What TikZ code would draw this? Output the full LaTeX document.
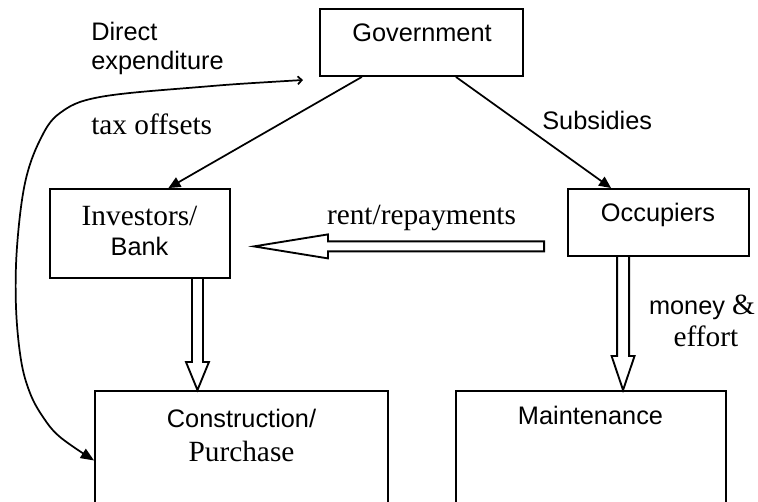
\documentclass[tikz,border=0pt]{standalone}
\usepackage{fontspec}
\setmainfont{Liberation Serif}
\setsansfont{Liberation Sans}
\usetikzlibrary{arrows.meta,calc}
\tikzset{box/.style={draw, rectangle, line width=1.4pt, inner sep=0pt}, % the plain boxes
sanstxt/.style={font=\fontsize{19}{23}\selectfont\sffamily, inner sep=0pt, anchor=base}, % Arial-like text
seriftxt/.style={font=\fontsize{22}{26}\selectfont\rmfamily, inner sep=0pt, anchor=base}, % Times-like text
flow/.style={line width=1.3pt, -{Triangle[length=9pt,width=8pt]}}, % thin arrows
hollow/.style={line width=1.4pt, line join=miter}, % outline of the fat arrows
}

\begin{document}
\begin{tikzpicture}[x=0.75pt,y=-0.75pt]
\useasboundingbox (0,0) rectangle (758,502);
\clip (0,0) rectangle (758,502);
\node[box, minimum width=152.25pt, minimum height=50.25pt] (gov) at (421.5,42.5) {};
\node[box, minimum width=135pt, minimum height=66.75pt] (inv) at (140,233.5) {};
\node[box, minimum width=135.75pt, minimum height=50.25pt] (occ) at (658.5,222.5) {};
\node[box, minimum width=219.75pt, minimum height=104.25pt] (con) at (241.5,460.5) {};
\node[box, minimum width=202.5pt, minimum height=104.25pt] (mnt) at (591,460.5) {};
% box texts
\node[sanstxt] (govtxt) at (422,42) {Government};
\node[seriftxt] (invtxt) at (139.5,226) {Investors/};
\node[sanstxt] (banktxt) at ([yshift=-22.5pt]invtxt.base) {Bank};
\node[sanstxt] (occtxt) at (658,222) {Occupiers};
\node[sanstxt] (contxt) at (241.5,428) {Construction/};
\node[seriftxt] (purtxt) at ([yshift=-25.5pt]contxt.base) {Purchase};
\node[sanstxt] (mnttxt) at (590.5,425) {Maintenance};
% edge texts
\node[sanstxt, anchor=base west] (dirtxt) at (91,41) {Direct};
\node[sanstxt, anchor=base west] (exptxt) at (91,70) {expenditure};
\node[seriftxt, anchor=base west] (taxtxt) at (91,135) {tax offsets};
\node[sanstxt, anchor=base west] (subtxt) at (542,130) {Subsidies};
\node[seriftxt] (renttxt) at (421.5,225) {rent/repayments};
\node[sanstxt] (montxt) at (702,315) {money {\fontsize{22}{26}\selectfont\rmfamily\&}};
\node[seriftxt] (efftxt) at (706,347) {effort};
% thin arrows
\draw[flow] (gov.210.7) -- (inv.58.8);
\draw[flow] (gov.315.8) -- (occ.144.2);
\coordinate (dirtail) at (303,80);
\draw[line width=1.3pt, {Straight Barb[length=3pt,width=6pt]}-{Triangle[length=10pt,width=8pt]}]
  plot[smooth, tension=0.6] coordinates {(dirtail) (200,87) (100,97) (60,113) (40,140) (25,183) (17,247) (16,307) (21,360) (30,393) (43,417) (60,437) (con.west)};
% fat arrows
\draw[hollow] let \p1=([xshift=-25.1pt]inv.south east), \p2=(con.north) in
  (\x1-4.1pt,\y1) -- (\x1-4.1pt,\y2+21pt) -- (\x1-8.6pt,\y2+21pt) -- (\x1,\y2)
  -- (\x1+8.6pt,\y2+21pt) -- (\x1+4.1pt,\y2+21pt) -- (\x1+4.1pt,\y1);
\draw[hollow] let \p1=([xshift=42pt]occ.south west), \p2=(mnt.north) in
  (\x1-4.5pt,\y1) -- (\x1-4.5pt,\y2+25.5pt) -- (\x1-8.6pt,\y2+25.5pt) -- (\x1,\y2)
  -- (\x1+8.6pt,\y2+25.5pt) -- (\x1+4.5pt,\y2+25.5pt) -- (\x1+4.5pt,\y1);
\draw[hollow] let \p1=([shift={(17.25pt,24.4pt)}]inv.south east), \p2=(occ.west) in
  (\x2-17.25pt,\y1+3.75pt) -- (\x1+55.5pt,\y1+3.75pt) -- (\x1+55.5pt,\y1+9pt) -- (\p1)
  -- (\x1+55.5pt,\y1-9pt) -- (\x1+55.5pt,\y1-3.75pt) -- (\x2-17.25pt,\y1-3.75pt) -- cycle;
\end{tikzpicture}
\end{document}
